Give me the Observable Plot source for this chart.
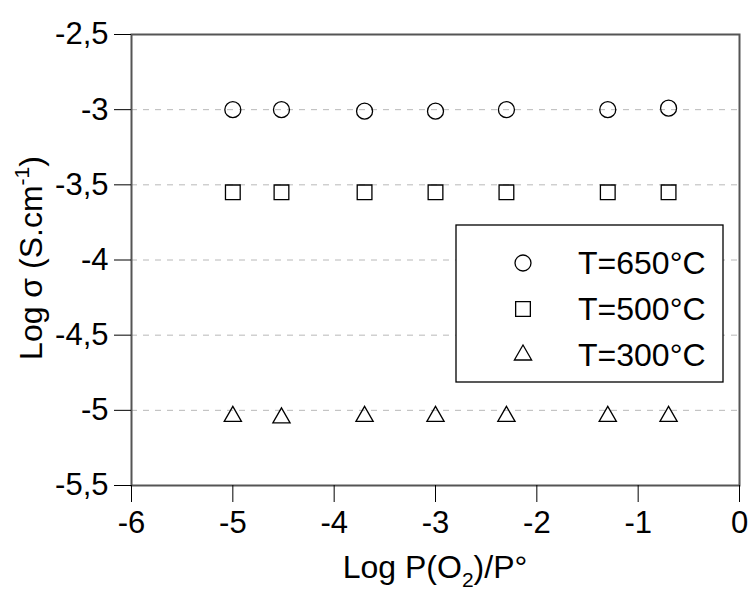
<!DOCTYPE html>
<html>
<head>
<meta charset="utf-8">
<script src="https://cdn.jsdelivr.net/npm/d3@7"></script>
<script src="https://cdn.jsdelivr.net/npm/@observablehq/plot@0.6"></script>
<style>
  html, body { margin: 0; padding: 0; background: #fff; }
  #chart { width: 749px; height: 592px; }
  svg { font-family: "Liberation Sans", Arial, sans-serif; }
</style>
</head>
<body>
<div id="chart"></div>
<script>
// ---- data ----
const logPO2 = [-5, -4.52, -3.7, -3, -2.3, -1.3, -0.7];
const sigma650 = [-3.0, -3.0, -3.01, -3.01, -3.0, -3.0, -2.99];
const sigma500 = [-3.55, -3.55, -3.55, -3.55, -3.55, -3.55, -3.55];
const sigma300 = [-5.04, -5.05, -5.04, -5.04, -5.04, -5.04, -5.04];
const seriesLabels = ["T=650°C", "T=500°C", "T=300°C"];
const seriesSymbols = ["circle", "square", "triangle"];
const xTicks = [-6, -5, -4, -3, -2, -1, 0];
const yTicks = [-2.5, -3, -3.5, -4, -4.5, -5, -5.5];
const gridY = [-3, -3.5, -4, -4.5, -5];

const seriesValues = [sigma650, sigma500, sigma300];
const rows = [];
seriesValues.forEach((vals, s) => vals.forEach((v, i) => rows.push({x: logPO2[i], y: v, s})));

const fmt = d => String(d).replace(".", ",");
const radius = {circle: 8, square: 8.3, triangle: 6.4};
const TICK_FONT = 31;
const LABEL_FONT = 32;

const chart = Plot.plot({
  width: 749,
  height: 592,
  marginLeft: 131,
  marginRight: 10,
  marginTop: 34,
  marginBottom: 107,
  style: {fontFamily: "Liberation Sans, Arial, sans-serif", color: "#000", background: "#fff"},
  x: {domain: [-6, 0]},
  y: {domain: [-5.5, -2.5]},
  marks: [
    Plot.ruleY(gridY, {stroke: "#b8b8b8", strokeWidth: 1, strokeDasharray: "6,6"}),
    Plot.frame({stroke: "#555", strokeWidth: 2}),
    Plot.axisX({ticks: xTicks, tickSize: 17, tickPadding: 8, tickFormat: fmt, stroke: "#000", fontSize: TICK_FONT, label: null}),
    Plot.axisY({ticks: yTicks, tickSize: 17, tickPadding: 6, tickFormat: fmt, stroke: "#000", fontSize: TICK_FONT, label: null}),
    ...seriesSymbols.map((sym, s) =>
      Plot.dot(rows.filter(d => d.s === s), {x: "x", y: "y", symbol: () => sym, r: radius[sym], stroke: "#000", strokeWidth: 1.3, fill: "none"})
    )
  ]
});

document.getElementById("chart").appendChild(chart);

// enforce tick label font size
const svg = d3.select(chart);
svg.selectAll("g[aria-label$='tick label']").attr("font-size", TICK_FONT).style("font-size", TICK_FONT + "px");
svg.selectAll("g[aria-label$='tick label'] text").style("font-size", TICK_FONT + "px");

// ---- axis labels & legend ----
const xl = svg.append("text")
  .attr("x", 435).attr("y", 578)
  .attr("text-anchor", "middle")
  .style("font-size", LABEL_FONT + "px")
  .attr("fill", "#000");
xl.append("tspan").text("Log P(O");
xl.append("tspan").style("font-size", "21px").attr("dy", 9).text("2");
xl.append("tspan").attr("dy", -9).text(")/P°");

const yl = svg.append("text")
  .attr("transform", "translate(42,258) rotate(-90)")
  .attr("text-anchor", "middle")
  .style("font-size", LABEL_FONT + "px")
  .attr("fill", "#000");
yl.append("tspan").text("Log σ (S.cm");
yl.append("tspan").style("font-size", "21px").attr("dy", -13).text("-1");
yl.append("tspan").attr("dy", 13).text(")");

// legend box
const lg = svg.append("g").attr("text-anchor", "start");
lg.append("rect")
  .attr("x", 456).attr("y", 225).attr("width", 267).attr("height", 157)
  .attr("fill", "#fff").attr("stroke", "#000").attr("stroke-width", 1.3);
const symMap = {circle: d3.symbolCircle, square: d3.symbolSquare, triangle: d3.symbolTriangle};
seriesLabels.forEach((lab, i) => {
  const cy = 263 + i * 46;
  const sym = seriesSymbols[i];
  const r = radius[sym];
  lg.append("path")
    .attr("transform", `translate(523,${cy})`)
    .attr("d", d3.symbol(symMap[sym], Math.PI * r * r)())
    .attr("fill", "none").attr("stroke", "#000").attr("stroke-width", 1.3);
  lg.append("text")
    .attr("x", 578).attr("y", cy + 11)
    .attr("text-anchor", "start")
    .style("font-size", LABEL_FONT + "px")
    .attr("fill", "#000")
    .text(lab);
});
</script>
</body>
</html>
